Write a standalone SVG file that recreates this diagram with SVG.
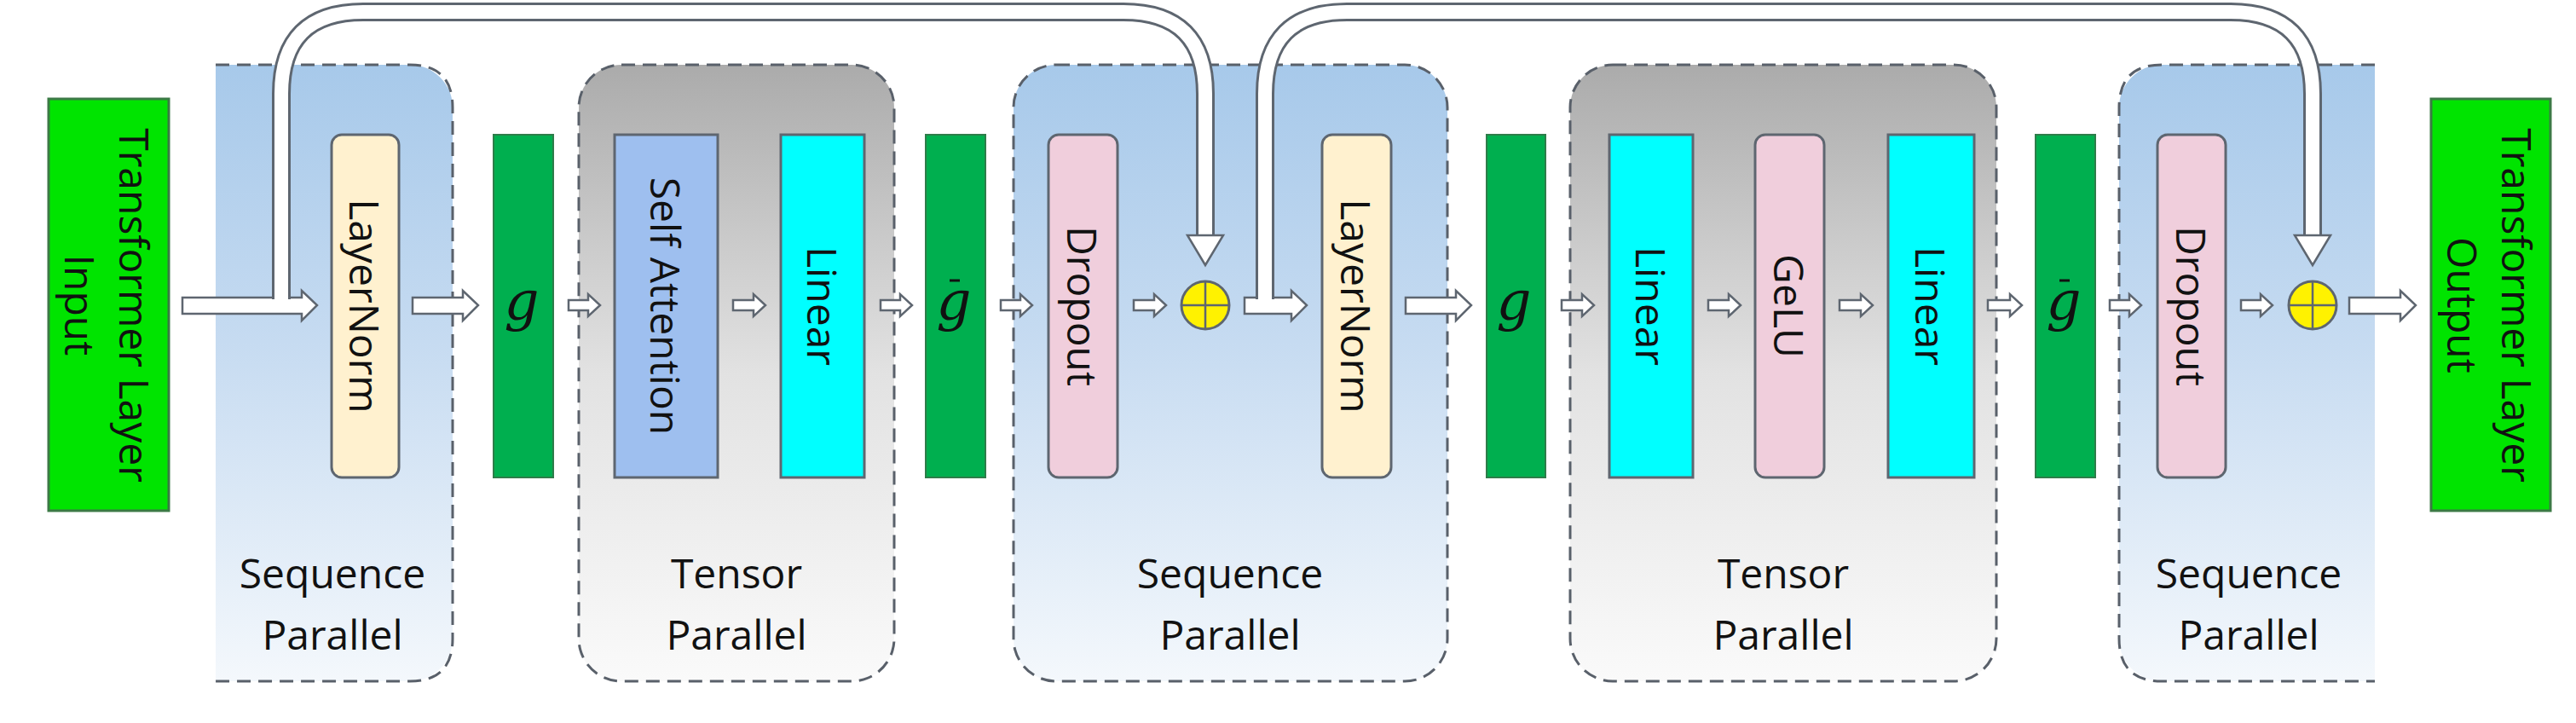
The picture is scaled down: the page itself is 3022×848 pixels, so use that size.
<svg xmlns="http://www.w3.org/2000/svg" width="3022" height="848" viewBox="0 0 3022 848">
<defs>
<linearGradient id="seq" x1="0" y1="0" x2="0" y2="1"><stop offset="0" stop-color="#A7C9EA"/><stop offset="0.45" stop-color="#C6DBF1"/><stop offset="1" stop-color="#F4F8FC"/></linearGradient>
<linearGradient id="ten" x1="0" y1="0" x2="0" y2="1"><stop offset="0" stop-color="#ABABAB"/><stop offset="0.5" stop-color="#E2E2E2"/><stop offset="1" stop-color="#FAFAFA"/></linearGradient>
</defs>
<style>
.panel{stroke:#59606A;stroke-width:3;stroke-dasharray:16 9}
.io{fill:#00E400;stroke:#3B7A45;stroke-width:3}
.g{fill:#00AF4F;stroke:#2E7D4A;stroke-width:2}
.ln{fill:#FFF1CF;stroke:#5E6670;stroke-width:3}
.dp{fill:#F0CEDC;stroke:#5E6670;stroke-width:3}
.sa{fill:#9EBFEF;stroke:#5E6670;stroke-width:3}
.lin{fill:#00FFFF;stroke:#5E6670;stroke-width:3}
.t{font-family:"Open Sans","Liberation Sans",sans-serif;font-size:48px;fill:#111;text-anchor:middle}
.v{font-family:"Open Sans","Liberation Sans",sans-serif;font-size:48px;fill:#111;text-anchor:middle;dominant-baseline:central}
.gl{font-family:"DejaVu Serif","Liberation Serif",serif;font-style:italic;font-size:64px;fill:#111;text-anchor:middle}
.arr{fill:#fff;stroke:#5E6670;stroke-width:2.5;stroke-linejoin:miter}
.po{fill:none;stroke:#5E6670;stroke-width:22}
.pi{fill:none;stroke:#fff;stroke-width:16}
</style>
<g id="panels">
<g id="seq1"><rect x="253" y="76" width="278" height="723" rx="50" fill="url(#seq)"/><rect x="253" y="76" width="60" height="723" fill="url(#seq)"/>
<path class="panel" fill="none" d="M253,76 H481 Q531,76 531,126 V749 Q531,799 481,799 H253"/>
<text class="t" x="390" y="690">Sequence</text><text class="t" x="390" y="762">Parallel</text></g>
<g id="ten1"><rect class="panel" x="679" y="76" width="370" height="723" rx="50" fill="url(#ten)"/>
<text class="t" x="864" y="690">Tensor</text><text class="t" x="864" y="762">Parallel</text></g>
<g id="seq2"><rect class="panel" x="1189" y="76" width="509" height="723" rx="50" fill="url(#seq)"/>
<text class="t" x="1443" y="690">Sequence</text><text class="t" x="1443" y="762">Parallel</text></g>
<g id="ten2"><rect class="panel" x="1842" y="76" width="500" height="723" rx="50" fill="url(#ten)"/>
<text class="t" x="2092" y="690">Tensor</text><text class="t" x="2092" y="762">Parallel</text></g>
<g id="seq3"><rect x="2486" y="76" width="300" height="723" rx="50" fill="url(#seq)"/><rect x="2726" y="76" width="60" height="723" fill="url(#seq)"/>
<path class="panel" fill="none" d="M2786,76 H2536 Q2486,76 2486,126 V749 Q2486,799 2536,799 H2786"/>
<text class="t" x="2638" y="690">Sequence</text><text class="t" x="2638" y="762">Parallel</text></g>
</g>
<g id="input"><rect class="io" x="57" y="116" width="141" height="483"/>
<text class="v" transform="rotate(90 127 358)" x="127" y="358"><tspan x="127" dy="-32">Transformer Layer</tspan><tspan x="127" dy="64">Input</tspan></text></g>
<g id="layernorm1"><rect class="ln" x="389" y="158" width="79" height="402" rx="12"/><text class="v" transform="rotate(90 428 359)" x="428" y="359">LayerNorm</text></g>
<g id="g1"><rect class="g" x="579" y="158" width="70" height="402"/><text class="gl" x="612" y="375">g</text></g>
<g id="selfattn"><rect class="sa" x="721" y="158" width="121" height="402"/><text class="v" transform="rotate(90 781 359)" x="781" y="359">Self Attention</text></g>
<g id="linear1"><rect class="lin" x="916" y="158" width="98" height="402"/><text class="v" transform="rotate(90 965 359)" x="965" y="359">Linear</text></g>
<g id="gbar1"><rect class="g" x="1086" y="158" width="70" height="402"/><text class="gl" x="1119" y="375">g</text><line x1="1114" y1="329" x2="1126" y2="329" stroke="#111" stroke-width="3"/></g>
<g id="dropout1"><rect class="dp" x="1230" y="158" width="81" height="402" rx="12"/><text class="v" transform="rotate(90 1270 359)" x="1270" y="359">Dropout</text></g>
<g id="add1"><circle cx="1414" cy="358" r="28" fill="#FFF200" stroke="#5E6670" stroke-width="3"/><path d="M1386,358 H1442 M1414,330 V386" stroke="#5E6670" stroke-width="2.5"/></g>
<g id="layernorm2"><rect class="ln" x="1551" y="158" width="81" height="402" rx="12"/><text class="v" transform="rotate(90 1591 359)" x="1591" y="359">LayerNorm</text></g>
<g id="g2"><rect class="g" x="1744" y="158" width="69" height="402"/><text class="gl" x="1776" y="375">g</text></g>
<g id="linear2"><rect class="lin" x="1888" y="158" width="98" height="402"/><text class="v" transform="rotate(90 1937 359)" x="1937" y="359">Linear</text></g>
<g id="gelu"><rect class="dp" x="2059" y="158" width="81" height="402" rx="12"/><text class="v" transform="rotate(90 2099 359)" x="2099" y="359">GeLU</text></g>
<g id="linear3"><rect class="lin" x="2215" y="158" width="101" height="402"/><text class="v" transform="rotate(90 2265 359)" x="2265" y="359">Linear</text></g>
<g id="gbar2"><rect class="g" x="2388" y="158" width="70" height="402"/><text class="gl" x="2421" y="375">g</text><line x1="2416" y1="329" x2="2428" y2="329" stroke="#111" stroke-width="3"/></g>
<g id="dropout2"><rect class="dp" x="2531" y="158" width="80" height="402" rx="12"/><text class="v" transform="rotate(90 2571 359)" x="2571" y="359">Dropout</text></g>
<g id="add2"><circle cx="2713" cy="358" r="28" fill="#FFF200" stroke="#5E6670" stroke-width="3"/><path d="M2685,358 H2741 M2713,330 V386" stroke="#5E6670" stroke-width="2.5"/></g>
<g id="output"><rect class="io" x="2852" y="116" width="140" height="483"/>
<text class="v" transform="rotate(90 2922 358)" x="2922" y="358"><tspan x="2922" dy="-32">Transformer Layer</tspan><tspan x="2922" dy="64">Output</tspan></text></g>
<g id="connectors">
<polygon class="arr" points="214,349 354,349 354,341 372,358 354,376 354,368 214,368"/>
<polygon class="arr" points="484,349 543,349 543,341 561,358 543,376 543,368 484,368"/>
<polygon class="arr" points="667,352 690,352 690,345 704,358 690,371 690,364 667,364"/>
<polygon class="arr" points="860,352 884,352 884,345 898,358 884,371 884,364 860,364"/>
<polygon class="arr" points="1033,352 1056,352 1056,345 1070,358 1056,371 1056,364 1033,364"/>
<polygon class="arr" points="1174,352 1197,352 1197,345 1211,358 1197,371 1197,364 1174,364"/>
<polygon class="arr" points="1330,352 1354,352 1354,345 1368,358 1354,371 1354,364 1330,364"/>
<polygon class="arr" points="1460,349 1515,349 1515,341 1533,358 1515,376 1515,368 1460,368"/>
<polygon class="arr" points="1649,349 1708,349 1708,341 1726,358 1708,376 1708,368 1649,368"/>
<polygon class="arr" points="1832,352 1856,352 1856,345 1870,358 1856,371 1856,364 1832,364"/>
<polygon class="arr" points="2004,352 2028,352 2028,345 2042,358 2028,371 2028,364 2004,364"/>
<polygon class="arr" points="2158,352 2183,352 2183,345 2197,358 2183,371 2183,364 2158,364"/>
<polygon class="arr" points="2332,352 2358,352 2358,345 2372,358 2358,371 2358,364 2332,364"/>
<polygon class="arr" points="2475,352 2498,352 2498,345 2512,358 2498,371 2498,364 2475,364"/>
<polygon class="arr" points="2629,352 2652,352 2652,345 2666,358 2652,371 2652,364 2629,364"/>
<polygon class="arr" points="2756,349 2816,349 2816,341 2834,358 2816,376 2816,368 2756,368"/>
<path class="po" d="M330,351 V110 Q330,14 426,14 H1318 Q1414,14 1414,110 V278"/>
<path class="pi" d="M330,358 V110 Q330,14 426,14 H1318 Q1414,14 1414,110 V280"/>
<polygon class="arr" points="1393,276 1435,276 1414,311"/>
<path class="po" d="M1484,351 V110 Q1484,14 1580,14 H2617 Q2713,14 2713,110 V278"/>
<path class="pi" d="M1484,358 V110 Q1484,14 1580,14 H2617 Q2713,14 2713,110 V280"/>
<polygon class="arr" points="2692,276 2734,276 2713,311"/>
</g>
</svg>
